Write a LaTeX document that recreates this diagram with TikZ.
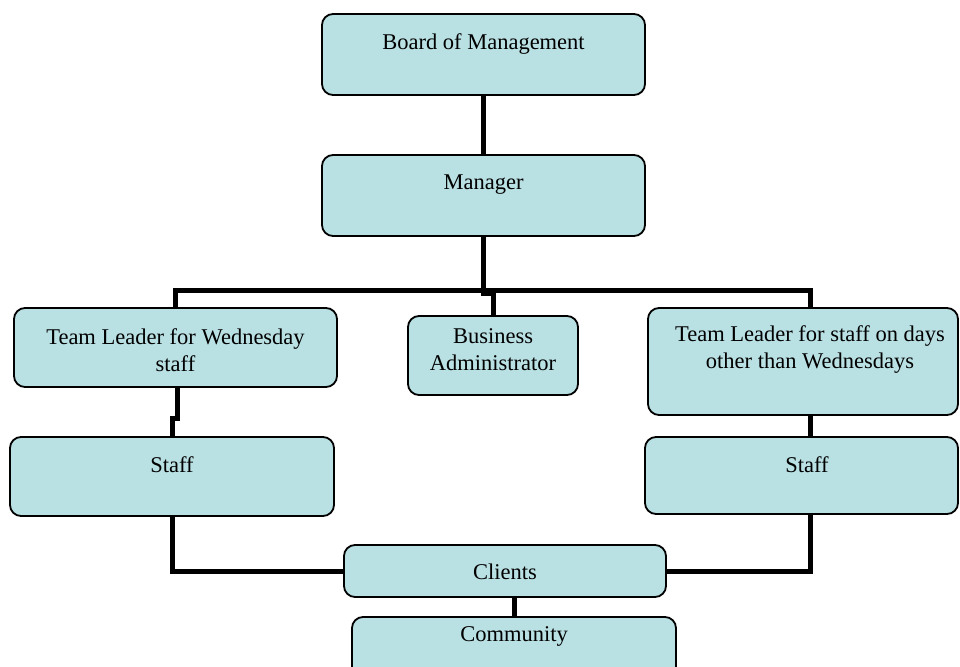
\documentclass[tikz,border=0pt]{standalone}
\usepackage{fontspec}
\setmainfont{Liberation Serif}
\usetikzlibrary{backgrounds}
\definecolor{boxc}{RGB}{185,224,227}
\tikzset{
  box/.style={draw=black, line width=1.8pt, rounded corners=11pt, fill=boxc,
    inner sep=0pt, outer sep=0pt, anchor=north west},
  txt/.style={font=\fontsize{22.5}{27}\selectfont, align=center, inner sep=0pt},
  conn/.style={line width=5pt, black}
}
\begin{document}
\begin{tikzpicture}[x=1pt, y=-1pt]
\useasboundingbox (0,0) rectangle (960,666);
\clip (0,0) rectangle (960,666);
% boxes
\node[box, minimum width=323pt, minimum height=81pt] (board) at (322,14) {};
\node[box, minimum width=323pt, minimum height=81pt] (manager) at (322,155) {};
\node[box, minimum width=323pt, minimum height=79pt] (tlw) at (14,308) {};
\node[box, minimum width=170pt, minimum height=79pt] (ba) at (408,316) {};
\node[box, minimum width=310pt, minimum height=107pt] (tlr) at (648,308) {};
\node[box, minimum width=324pt, minimum height=79pt] (staffL) at (10,437) {};
\node[box, minimum width=313pt, minimum height=77pt] (staffR) at (645,437) {};
\node[box, minimum width=322pt, minimum height=52pt] (clients) at (344,545) {};
\node[box, minimum width=324pt, minimum height=75pt] (community) at (352,617) {};
% texts
\node[txt] (tboard) at (483.5,44) {Board of Management};
\node[txt] (tmanager) at (483.5,185) {Manager};
\node[txt] (ttlw) at (175.5,350) {Team Leader for Wednesday\\staff};
\node[txt] (tba) at (493,349.5) {Business\\Administrator};
\node[txt] (ttlr) at (810,350) {Team Leader for staff on days\\other than Wednesdays};
\node[txt] (tstaffL) at (172,465) {Staff};
\node[txt] (tstaffR) at (807,465) {Staff};
\node[txt] (tclients) at (505,572) {Clients};
\node[txt] (tcommunity) at (514,636) {Community};
% helper coordinates
\coordinate (barY) at (0,290);
\coordinate (tlrTop) at ([xshift=7pt]tlr.north);
\coordinate (tlrBot) at ([xshift=7pt]tlr.south);
\coordinate (staffRBot) at ([xshift=8.5pt]staffR.south);
% connectors
\begin{scope}[on background layer]
\draw[conn] (board.south) -- (manager.north);
\draw[conn] (manager.south) -- ++(0,57) -| (ba.north);
\draw[conn] (tlw.north) |- (tlrTop |- barY) -- (tlrTop);
\draw[conn] ([xshift=1.5pt]tlw.south) -- ++(0,31) -| (staffL.north);
\draw[conn] (tlrBot) -- (tlrBot |- staffR.north);
\draw[conn] (staffL.south) |- (clients.west);
\draw[conn] (staffRBot) |- (clients.east);
\draw[conn] (community.north) -- (community.north |- clients.south);
\end{scope}
\end{tikzpicture}
\end{document}
